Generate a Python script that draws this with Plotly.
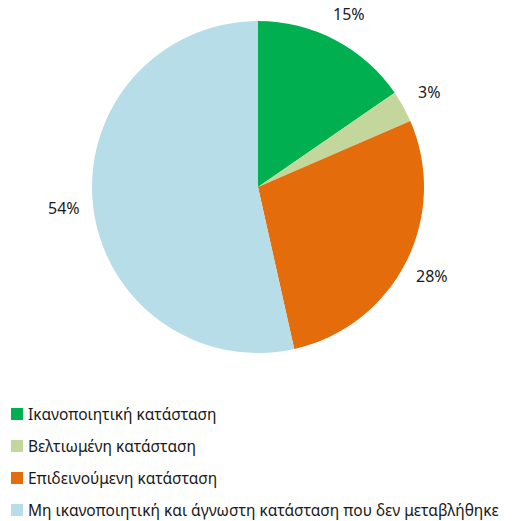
import math
import plotly.graph_objects as go

labels = ["Ικανοποιητική κατάσταση", "Βελτιωμένη κατάσταση",
          "Επιδεινούμενη κατάσταση",
          "Μη ικανοποιητική και άγνωστη κατάσταση που δεν μεταβλήθηκε"]
values = [15.4, 3.1, 28.0, 53.5]
colors = ["#00B050", "#C3D69B", "#E46C0A", "#B7DEE8"]

W, H = 512, 521
cx, cy, R = 258, 187, 166
FONT = "Noto Sans"
FS = 15.5

fig = go.Figure(go.Pie(
    labels=labels, values=values, sort=False, direction="clockwise", rotation=0,
    marker=dict(colors=colors, line=dict(width=0)),
    textinfo="none", hoverinfo="label+percent",
    domain=dict(x=[(cx - R) / W, (cx + R) / W], y=[1 - (cy + R) / H, 1 - (cy - R) / H]),
    showlegend=False,
))

annotations = []
total = sum(values)
cum = 0
for v in values:
    mid = (cum + v / 2) / total * 2 * math.pi
    cum += v
    r = R * 1.175
    x = cx + r * math.sin(mid)
    y = cy - r * math.cos(mid)
    annotations.append(dict(x=x / W, y=1 - y / H, xref="paper", yref="paper",
                            text=f"{int(v / total * 100 + 0.5)}%", showarrow=False,
                            font=dict(family=FONT, size=16, color="#1a1a1a"),
                            xanchor="center", yanchor="middle"))

shapes = []
legend_y0, gap = 414, 32
for i, (lab, col) in enumerate(zip(labels, colors)):
    yc = legend_y0 + i * gap
    shapes.append(dict(type="rect", xref="paper", yref="paper",
                       x0=11 / W, x1=23 / W, y0=1 - (yc + 6) / H, y1=1 - (yc - 6) / H,
                       fillcolor=col, line=dict(width=0)))
    annotations.append(dict(x=26 / W, y=1 - yc / H, xref="paper", yref="paper",
                            text=lab, showarrow=False, xanchor="left", yanchor="middle",
                            font=dict(family=FONT, size=FS, color="#1a1a1a")))

fig.update_layout(width=W, height=H, margin=dict(l=0, r=0, t=0, b=0),
                  paper_bgcolor="white", plot_bgcolor="white",
                  annotations=annotations, shapes=shapes)
fig.write_html("out.html")
